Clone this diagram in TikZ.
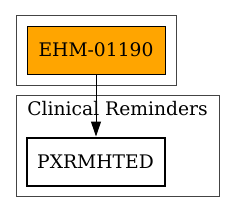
\documentclass[tikz,border=0pt]{standalone}
\usepackage{fontspec}
\setmainfont{DejaVu Serif}
\usetikzlibrary{arrows.meta,calc,positioning}
\definecolor{HostOrange}{HTML}{FFA500}
\definecolor{ClusterGray}{HTML}{444444}

\begin{document}
\begin{tikzpicture}[x=1pt, y=1pt, every node/.style={font=\fontsize{18.7}{22}\selectfont, inner sep=0pt}]
    \useasboundingbox (0,0) rectangle (235,-212);

    \node[draw=ClusterGray, line width=1pt, minimum width=160pt, minimum height=70pt] (hostcluster) at (96,-50) {};
    \node[draw=ClusterGray, line width=1pt, minimum width=203pt, minimum height=101pt] (pkgcluster) at (117.5,-145.5) {};
    \node[anchor=base] (pkglabel) at ($(pkgcluster.north)+(0,-21)$) {Clinical Reminders};

    \node[draw=black, line width=1pt, fill=HostOrange, minimum width=138pt, minimum height=48pt] (host) at (hostcluster.center) {EHM-01190};
    \node[draw=black, line width=2pt, minimum width=138pt, minimum height=48pt] (routine) at (95.5,-161.5) {PXRMHTED};

    \draw[-{Triangle[length=15pt, width=10pt]}, line width=1pt] (host.south) -- (host.south |- routine.north);
  \end{tikzpicture}
\end{document}
